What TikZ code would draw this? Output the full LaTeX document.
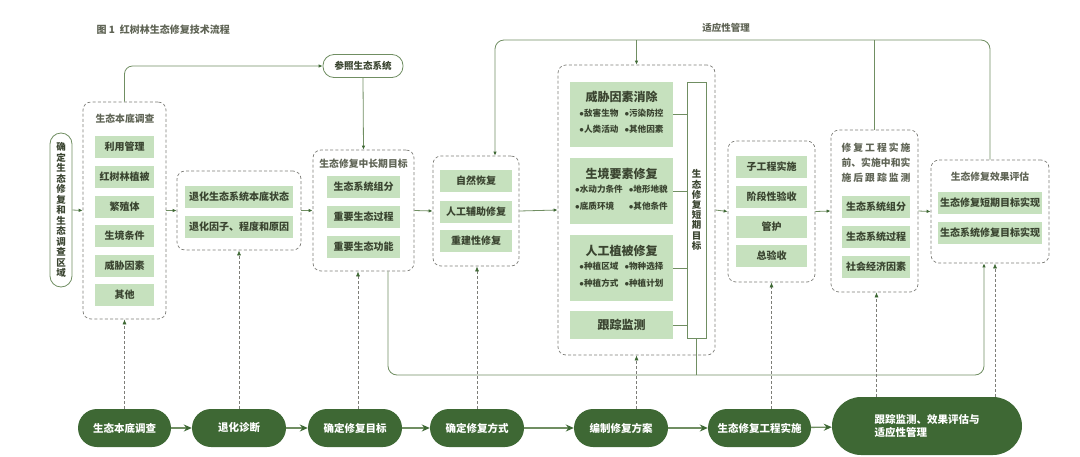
\documentclass[tikz,border=0pt]{standalone}
\usepackage{fontspec}
\setmainfont{Noto Sans CJK SC}
\usetikzlibrary{arrows.meta}

\definecolor{stageGreen}{RGB}{62,104,52}
\definecolor{leafGreen}{RGB}{198,225,190}
\definecolor{lineGreen}{RGB}{112,142,98}
\definecolor{dashGray}{RGB}{125,125,120}
\definecolor{itemText}{RGB}{58,68,48}
\definecolor{titleText}{RGB}{95,100,85}

\newcommand{\bulletfont}{\fontsize{8.6}{16.5}\selectfont}
\newcommand{\headfont}{\fontsize{12}{14}\selectfont\bfseries}

\begin{document}
\begin{tikzpicture}[
  x=1pt, y=-1pt,
  font=\fontsize{9.5}{11}\selectfont,
  grp/.style={rectangle, rounded corners=8pt, draw=dashGray, line width=0.7pt,
              dash pattern=on 3pt off 2.2pt},
  item/.style={rectangle, fill=leafGreen, minimum height=22pt, inner sep=0pt,
               text=itemText, align=center, font=\fontsize{10}{11}\selectfont\bfseries},
  gtitle/.style={text=titleText, font=\fontsize{9.8}{15}\selectfont\bfseries, align=center},
  capsule/.style={rectangle, rounded corners=11pt, draw=lineGreen, line width=0.8pt,
                  fill=white, text=itemText, align=center, inner sep=0pt},
  stagebox/.style={rectangle, rounded corners=19pt, fill=stageGreen, minimum height=38pt,
                   inner sep=0pt, text=white, font=\fontsize{10.5}{13}\selectfont\bfseries},
  flow/.style={-{Stealth[length=8pt,width=7pt,color=stageGreen]}, line width=1.3pt, draw=lineGreen},
  arr/.style={-{Latex[length=4pt,width=3.5pt,color=stageGreen]}, line width=0.8pt, draw=lineGreen},
  link/.style={line width=0.9pt, draw=lineGreen},
  upd/.style={-{Latex[length=5pt,width=4pt,color=stageGreen]}, line width=0.7pt, draw=dashGray,
              dash pattern=on 3pt off 2pt}
]
\useasboundingbox (0,0) rectangle (1080,456);

% Title
\node[anchor=west, text=titleText, font=\fontsize{10}{12}\selectfont\bfseries] (title) at (93,30)
  {图 1\hspace{5pt}红树林生态修复技术流程};

% Survey area
\node[capsule, minimum width=22pt, minimum height=154pt, font=\fontsize{9.5}{10.5}\selectfont\bfseries]
  (area) at (61,210)
  {确\\定\\生\\态\\修\\复\\和\\生\\态\\调\\查\\区\\域};

% Baseline survey
\node[grp, minimum width=83pt, minimum height=217pt] (g1) at (124.5,210.5) {};
\node[gtitle] (g1t) at (125,119) {生态本底调查};
\node[item, minimum width=59pt] (use)    at (124.5,147) {利用管理};
\node[item, minimum width=59pt] (veg)    at (124.5,177) {红树林植被};
\node[item, minimum width=59pt] (prop)   at (124.5,207) {繁殖体};
\node[item, minimum width=59pt] (hab)    at (124.5,236) {生境条件};
\node[item, minimum width=59pt] (threat) at (124.5,266) {威胁因素};
\node[item, minimum width=59pt] (other)  at (124.5,295) {其他};

% Degradation diagnosis
\node[grp, minimum width=124pt, minimum height=79pt] (g2) at (239,210.5) {};
\node[item, minimum width=108pt] (state)  at (239,197) {退化生态系统本底状态};
\node[item, minimum width=108pt] (cause)  at (239,227) {退化因子、程度和原因};

% Mid- and long-term goals
\node[grp, minimum width=101pt, minimum height=121pt] (g3) at (363.5,210.5) {};
\node[gtitle] (g3t) at (363.5,164) {生态修复中长期目标};
\node[item, minimum width=73pt] (comp)  at (363.5,187) {生态系统组分};
\node[item, minimum width=73pt] (proc)  at (363.5,217) {重要生态过程};
\node[item, minimum width=73pt] (func)  at (363.5,247) {重要生态功能};

% Reference ecosystem
\node[capsule, minimum width=80pt, minimum height=23pt, font=\fontsize{9.5}{11}\selectfont\bfseries]
  (ref) at (363,66) {参照生态系统};

% Restoration modes
\node[grp, minimum width=86pt, minimum height=110pt] (g4) at (476,211) {};
\node[item, minimum width=72pt] (natural) at (476,181) {自然恢复};
\node[item, minimum width=72pt] (assist)  at (476,212) {人工辅助修复};
\node[item, minimum width=72pt] (rebuild) at (476,241) {重建性修复};

% Restoration plan
\node[grp, minimum width=157pt, minimum height=290pt] (g5) at (636.5,210) {};
\node[item, minimum width=103pt, minimum height=65pt] (remove) at (621.5,114.5)
  {{\headfont 威胁因素消除}\\[1pt]
   {\bulletfont\begin{tabular}{@{}l@{\hspace{6pt}}l@{}}
    $\bullet$敌害生物 & $\bullet$污染防控\\ $\bullet$人类活动 & $\bullet$其他因素\end{tabular}}};
\node[item, minimum width=103pt, minimum height=66pt] (habfix) at (621.5,191)
  {{\headfont 生境要素修复}\\[1pt]
   {\bulletfont\begin{tabular}{@{}l@{\hspace{6pt}}l@{}}
    $\bullet$水动力条件 & $\bullet$地形地貌\\ $\bullet$底质环境 & $\bullet$其他条件\end{tabular}}};
\node[item, minimum width=103pt, minimum height=66pt] (plant) at (621.5,268)
  {{\headfont 人工植被修复}\\[1pt]
   {\bulletfont\begin{tabular}{@{}l@{\hspace{6pt}}l@{}}
    $\bullet$种植区域 & $\bullet$物种选择\\ $\bullet$种植方式 & $\bullet$种植计划\end{tabular}}};
\node[item, minimum width=103pt, minimum height=28pt, font=\headfont] (track) at (621.5,325) {跟踪监测};
\node[rectangle, draw=lineGreen, line width=0.8pt, fill=white, minimum width=19pt, minimum height=256pt,
      inner sep=0pt, align=center, text=itemText, font=\fontsize{9.5}{10.2}\selectfont\bfseries]
  (short) at (696.5,210) {生\\态\\修\\复\\短\\期\\目\\标};

\draw[link] (remove.east) -- (remove.east -| short.west);
\draw[link] (habfix.east) -- (habfix.east -| short.west);
\draw[link] (plant.east)  -- (plant.east -| short.west);
\draw[link] (track.east)  -- (track.east -| short.west);

% Implementation
\node[grp, minimum width=87pt, minimum height=141pt] (g6) at (771.5,211.5) {};
\node[item, minimum width=71pt] (sub)    at (771.5,167) {子工程实施};
\node[item, minimum width=71pt] (stage)  at (771.5,197) {阶段性验收};
\node[item, minimum width=71pt] (care)   at (771.5,226.5) {管护};
\node[item, minimum width=71pt] (final)  at (771.5,256) {总验收};

% Monitoring
\node[grp, minimum width=87pt, minimum height=162pt] (g7) at (874.5,211) {};
\node[gtitle] (g7t) at (876,163)
  {\makebox[69pt]{修\hfill 复\hfill 工\hfill 程\hfill 实\hfill 施}\\
   \makebox[69pt]{前\hfill 、\hfill 实\hfill 施\hfill 中\hfill 和\hfill 实}\\
   \makebox[69pt]{施\hfill 后\hfill 跟\hfill 踪\hfill 监\hfill 测}};
\node[item, minimum width=68pt] (mcomp) at (876,207) {生态系统组分};
\node[item, minimum width=68pt] (mproc) at (876,237) {生态系统过程};
\node[item, minimum width=68pt] (msoc)  at (876,267) {社会经济因素};

% Evaluation
\node[grp, minimum width=118pt, minimum height=103pt] (g8) at (990,211.5) {};
\node[gtitle] (g8t) at (990,177) {生态修复效果评估};
\node[item, minimum width=104pt] (shortok) at (990,203) {生态修复短期目标实现};
\node[item, minimum width=104pt] (goalok)  at (990,233) {生态系统修复目标实现};

% Links between blocks
\draw[arr] (area.east) -- (g1.west);
\draw[arr] (g1.east) -- (g2.west);
\draw[arr] (g2.east) -- (g3.west);
\draw[arr] (g3.east) -- (g4.west);
\draw[arr] (g4.east) -- (g5.west);
\draw[arr] (g5.east) -- (g6.west);
\draw[arr] (g6.east) -- (g7.west);
\draw[arr] (g7.east) -- (g8.west);

\draw[arr, rounded corners=8pt] (g1.north) |- (ref.west);
\draw[arr] (ref.south) -- (g3.north);

% Adaptive management loop
\coordinate (topline) at (700,40);
\coordinate (lowrun) at (700,375);
\node[text=titleText, font=\fontsize{9.5}{11}\selectfont\bfseries] (adapt) at (726,28) {适应性管理};
\draw[arr, rounded corners=9pt] (g8.north) |- (topline) -| ([xshift=19pt]g4.north);
\draw[arr] (g5.north |- topline) -- (g5.north);
\draw[link] (g7.north) -- (g7.north |- topline);
\draw[arr, rounded corners=9pt] ([xshift=24.5pt]g3.south) |- (lowrun) -| ([xshift=-6pt]g8.south);
\draw[link] (short.south) -- (short.south |- lowrun);

% Workflow stages
\node[stagebox, minimum width=93pt]  (s1) at (124.5,428) {生态本底调查};
\node[stagebox, minimum width=94pt]  (s2) at (239,428)   {退化诊断};
\node[stagebox, minimum width=94pt]  (s3) at (355,428)   {确定修复目标};
\node[stagebox, minimum width=94pt]  (s4) at (477,428)   {确定修复方式};
\node[stagebox, minimum width=94pt]  (s5) at (621,428)   {编制修复方案};
\node[stagebox, minimum width=103pt] (s6) at (759.5,428) {生态修复工程实施};
\node[stagebox, minimum width=190pt, minimum height=58pt, rounded corners=29pt, align=left]
  (s7) at (927,426) {跟踪监测、效果评估与\\适应性管理};

\draw[flow] (s1) -- (s2);
\draw[flow] (s2) -- (s3);
\draw[flow] (s3) -- (s4);
\draw[flow] (s4) -- (s5);
\draw[flow] (s5) -- (s6);
\draw[flow] (s6) -- (s7);

% Stages feed the blocks
\draw[upd] (s1.north) -- (g1.south);
\draw[upd] (s2.north) -- (g2.south);
\draw[upd] ([xshift=3pt]s3.north) -- ([xshift=3pt]s3.north |- g3.south);
\draw[upd] (s4.north) -- (s4.north |- g4.south);
\draw[upd] (g5.south |- s5.north) -- (g5.south);
\draw[upd] (g6.south |- s6.north) -- (g6.south);
\draw[upd] ([xshift=2pt]g7.south |- s7.north) -- ([xshift=2pt]g7.south);
\draw[upd] ([xshift=5pt]g8.south |- s7.north) -- ([xshift=5pt]g8.south);

\end{tikzpicture}
\end{document}
